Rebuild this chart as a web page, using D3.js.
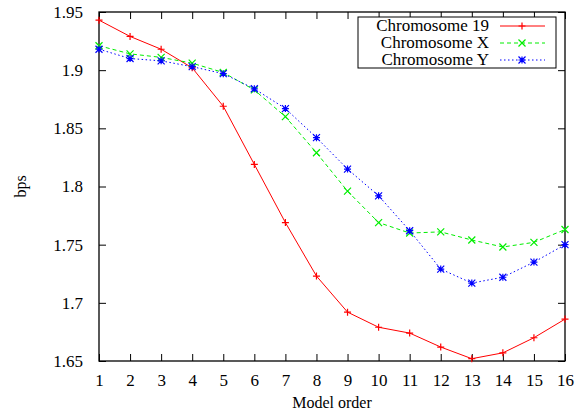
<!DOCTYPE html>
<html lang="en">
<head>
<meta charset="UTF-8">
<title>bps vs model order</title>
<script src="https://cdn.jsdelivr.net/npm/d3@7"></script>
<style>
  body { margin: 0; background: #fff; }
</style>
</head>
<body>
<svg></svg>
<script>
    var modelOrder = [1, 2, 3, 4, 5, 6, 7, 8, 9, 10, 11, 12, 13, 14, 15, 16];
    var chr19 = [1.943, 1.929, 1.918, 1.902, 1.869, 1.819, 1.769, 1.723, 1.692, 1.679, 1.674, 1.662, 1.652, 1.657, 1.670, 1.686];
    var chrX  = [1.921, 1.914, 1.911, 1.906, 1.898, 1.883, 1.860, 1.829, 1.796, 1.769, 1.760, 1.761, 1.754, 1.748, 1.752, 1.763];
    var chrY  = [1.918, 1.910, 1.908, 1.903, 1.897, 1.884, 1.867, 1.842, 1.815, 1.792, 1.762, 1.729, 1.717, 1.722, 1.735, 1.750];
    var yTicks = [1.65, 1.7, 1.75, 1.8, 1.85, 1.9, 1.95];
    var yTickLabels = ["1.65", "1.7", "1.75", "1.8", "1.85", "1.9", "1.95"];

    var series = [
        {name: "Chromosome 19", values: chr19, color: "#ff0000", dash: null,  marker: "plus"},
        {name: "Chromosome X",  values: chrX,  color: "#00ee00", dash: "4,3", marker: "cross"},
        {name: "Chromosome Y",  values: chrY,  color: "#0000ff", dash: "1.5,2.5", marker: "star"}
    ];

    var width = 580, height = 413;
    var plotL = 99, plotR = 565, plotT = 12, plotB = 361;
    var serif = '"Liberation Serif", "Times New Roman", serif';

    var svg = d3.select("svg").attr("width", width).attr("height", height);

    var x = d3.scaleLinear().domain([1, 16]).range([plotL, plotR]);
    var y = d3.scaleLinear().domain([1.65, 1.95]).range([plotB, plotT]);

    // axes (gnuplot style: inward ticks, mirrored)
    var tk = 7;
    svg.append("g").attr("transform", "translate(0," + plotB + ")")
        .call(d3.axisBottom(x).tickValues(modelOrder).tickSize(-tk).tickPadding(tk + 6).tickFormat(d3.format("d")));
    svg.append("g").attr("transform", "translate(0," + plotT + ")")
        .call(d3.axisTop(x).tickValues(modelOrder).tickSize(-tk).tickFormat(""));
    svg.append("g").attr("transform", "translate(" + plotL + ",0)")
        .call(d3.axisLeft(y).tickValues(yTicks).tickSize(-tk).tickPadding(tk + 9)
            .tickFormat(function(d, i) { return yTickLabels[i]; }));
    svg.append("g").attr("transform", "translate(" + plotR + ",0)")
        .call(d3.axisRight(y).tickValues(yTicks).tickSize(-tk).tickFormat(""));

    svg.selectAll(".domain").remove();
    svg.selectAll(".tick line").attr("stroke", "#000").attr("stroke-width", 1);
    svg.selectAll(".tick text")
        .style("font-family", serif).style("font-size", "17px").attr("fill", "#000");

    svg.append("rect")
        .attr("x", plotL).attr("y", plotT)
        .attr("width", plotR - plotL).attr("height", plotB - plotT)
        .attr("fill", "none").attr("stroke", "#000").attr("stroke-width", 1.3);

    // axis titles
    svg.append("text").attr("x", (plotL + plotR) / 2).attr("y", 408)
        .attr("text-anchor", "middle")
        .style("font-family", serif).style("font-size", "16px").text("Model order");
    svg.append("text").attr("transform", "translate(26," + ((plotT + plotB) / 2) + ") rotate(-90)")
        .attr("text-anchor", "middle")
        .style("font-family", serif).style("font-size", "16px").text("bps");

    function markerPath(type, s) {
        var plus = "M" + (-s) + ",0H" + s + "M0," + (-s) + "V" + s;
        var cross = "M" + (-s) + "," + (-s) + "L" + s + "," + s + "M" + (-s) + "," + s + "L" + s + "," + (-s);
        if (type == "plus") return plus;
        if (type == "cross") return cross;
        return plus + cross;
    }

    var line = d3.line()
        .x(function(d, i) { return x(modelOrder[i]); })
        .y(function(d) { return y(d); });

    series.forEach(function(s) {
        svg.append("path")
            .attr("d", line(s.values))
            .attr("fill", "none")
            .attr("stroke", s.color)
            .attr("stroke-width", 1)
            .attr("stroke-dasharray", s.dash);
        svg.selectAll(null)
            .data(s.values)
            .enter()
            .append("path")
            .attr("transform", function(d, i) { return "translate(" + x(modelOrder[i]) + "," + y(d) + ")"; })
            .attr("d", markerPath(s.marker, 3.5))
            .attr("stroke", s.color)
            .attr("stroke-width", 1.2)
            .attr("fill", "none");
    });

    // legend
    svg.append("rect")
        .attr("x", 358).attr("y", 17).attr("width", 198).attr("height", 51)
        .attr("fill", "#fff").attr("stroke", "#000").attr("stroke-width", 1);
    series.forEach(function(s, i) {
        var ly = 26 + i * 17;
        svg.append("text").attr("x", 489).attr("y", ly + 5)
            .attr("text-anchor", "end")
            .style("font-family", serif).style("font-size", "17px").text(s.name);
        svg.append("line")
            .attr("x1", 500).attr("x2", 545).attr("y1", ly).attr("y2", ly)
            .attr("stroke", s.color).attr("stroke-width", 1)
            .attr("stroke-dasharray", s.dash);
        svg.append("path")
            .attr("transform", "translate(522," + ly + ")")
            .attr("d", markerPath(s.marker, 3.5))
            .attr("stroke", s.color).attr("stroke-width", 1.2).attr("fill", "none");
    });
</script>
</body>
</html>
